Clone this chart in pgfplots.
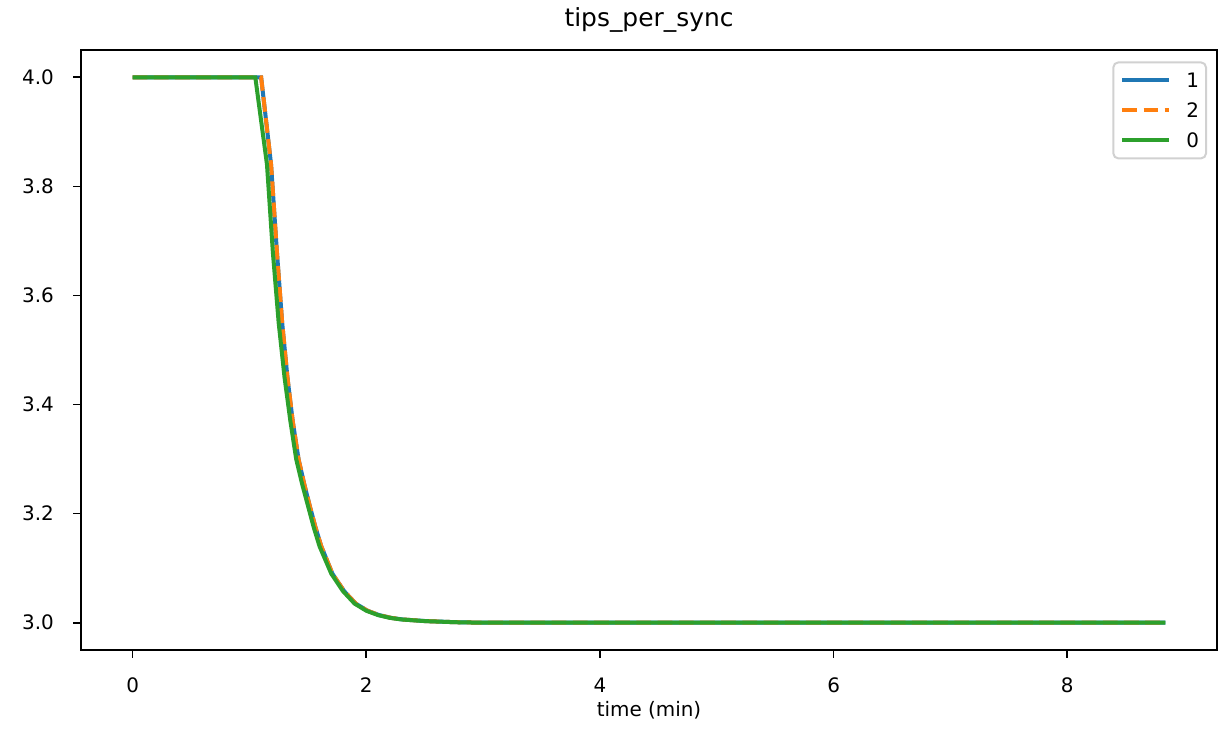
\documentclass[border=0pt]{standalone}
\usepackage{fontspec}
\setmainfont{DejaVu Sans}
\usepackage{pgfplots}
\pgfplotsset{compat=1.18}
\definecolor{cblue}{HTML}{1F77B4}
\definecolor{corange}{HTML}{FF7F0E}
\definecolor{cgreen}{HTML}{2CA02C}
\begin{document}
\begin{tikzpicture}
\begin{axis}[
  at={(0,0)}, anchor=south west,
  scale only axis, width=568bp, height=300bp,
  xmin=-0.442, xmax=9.282, ymin=2.95, ymax=4.05,
  xtick={0,2,4,6,8}, ytick={3,3.2,3.4,3.6,3.8,4},
  /pgf/number format/assume math mode=true,
  yticklabel={\pgfmathprintnumber[fixed,fixed zerofill,precision=1]{\tick}},
  tick align=outside, major tick length=3.8bp,
  xtick pos=bottom, ytick pos=left,
  tick style={line width=0.8bp, black},
  axis line style={line width=0.8bp, black},
  ticklabel style={font=\fontsize{10}{12}\selectfont},
  xticklabel style={anchor=base, inner sep=0pt, yshift=-17.5bp},
  yticklabel style={anchor=east, inner sep=0pt, xshift=-9.6bp},
  xlabel={time (min)},
  xlabel style={font=\fontsize{10}{12}\selectfont, at={(axis description cs:0.5,0)}, anchor=base, yshift=-33bp, inner sep=0pt},
  title={tips\_per\_sync},
  title style={font=\fontsize{12.5}{14}\selectfont, at={(axis description cs:0.5,1)}, anchor=base, yshift=6bp, inner sep=0pt},
  legend style={at={(axis description cs:0.9912,0.981)}, anchor=north east,
    draw=black!18, rounded corners=2.5bp, line width=1bp,
    font=\fontsize{10}{12}\selectfont, row sep=0pt, column sep=7.5bp,
    inner xsep=3.5bp, inner ysep=1.5bp,
    nodes={inner sep=0pt, text height=11.1bp, text depth=3.9bp},
    cells={anchor=west}},
  legend cell align=left,
  legend image code/.code={\draw[#1] (0bp,0bp) -- (23.5bp,0bp);},
  clip=true,
]
\addplot[cblue, line width=2bp] coordinates {
(0,4.0) (1.10,4.0) (1.185,3.84) (1.235,3.68) (1.28,3.55) (1.325,3.45) (1.37,3.37)
(1.42,3.30) (1.468,3.255) (1.515,3.215) (1.565,3.175) (1.615,3.14) (1.71,3.09)
(1.81,3.058) (1.91,3.035) (2.01,3.022) (2.11,3.014) (2.21,3.009) (2.31,3.006)
(2.51,3.003) (2.76,3.001) (3.0,3.0) (8.84,3.0)};
\addlegendentry{1}
\addplot[corange, line width=2bp, dash pattern=on 7.4bp off 3.2bp] coordinates {
(0,4.0) (1.10,4.0) (1.185,3.84) (1.235,3.68) (1.28,3.55) (1.325,3.45) (1.37,3.37)
(1.42,3.30) (1.468,3.255) (1.515,3.215) (1.565,3.175) (1.615,3.14) (1.71,3.09)
(1.81,3.058) (1.91,3.035) (2.01,3.022) (2.11,3.014) (2.21,3.009) (2.31,3.006)
(2.51,3.003) (2.76,3.001) (3.0,3.0) (8.84,3.0)};
\addlegendentry{2}
\addplot[cgreen, line width=2bp] coordinates {
(0,4.0) (1.05,4.0) (1.15,3.84) (1.20,3.68) (1.25,3.55) (1.30,3.45) (1.35,3.37)
(1.40,3.30) (1.45,3.255) (1.50,3.215) (1.55,3.175) (1.60,3.14) (1.70,3.09)
(1.80,3.058) (1.90,3.035) (2.00,3.022) (2.10,3.014) (2.20,3.009) (2.30,3.006)
(2.50,3.003) (2.75,3.001) (3.0,3.0) (8.84,3.0)};
\addlegendentry{0}
\end{axis}
\path[use as bounding box] (-40.5bp,-42.5bp) rectangle (572.5bp,325bp);
\end{tikzpicture}
\end{document}
